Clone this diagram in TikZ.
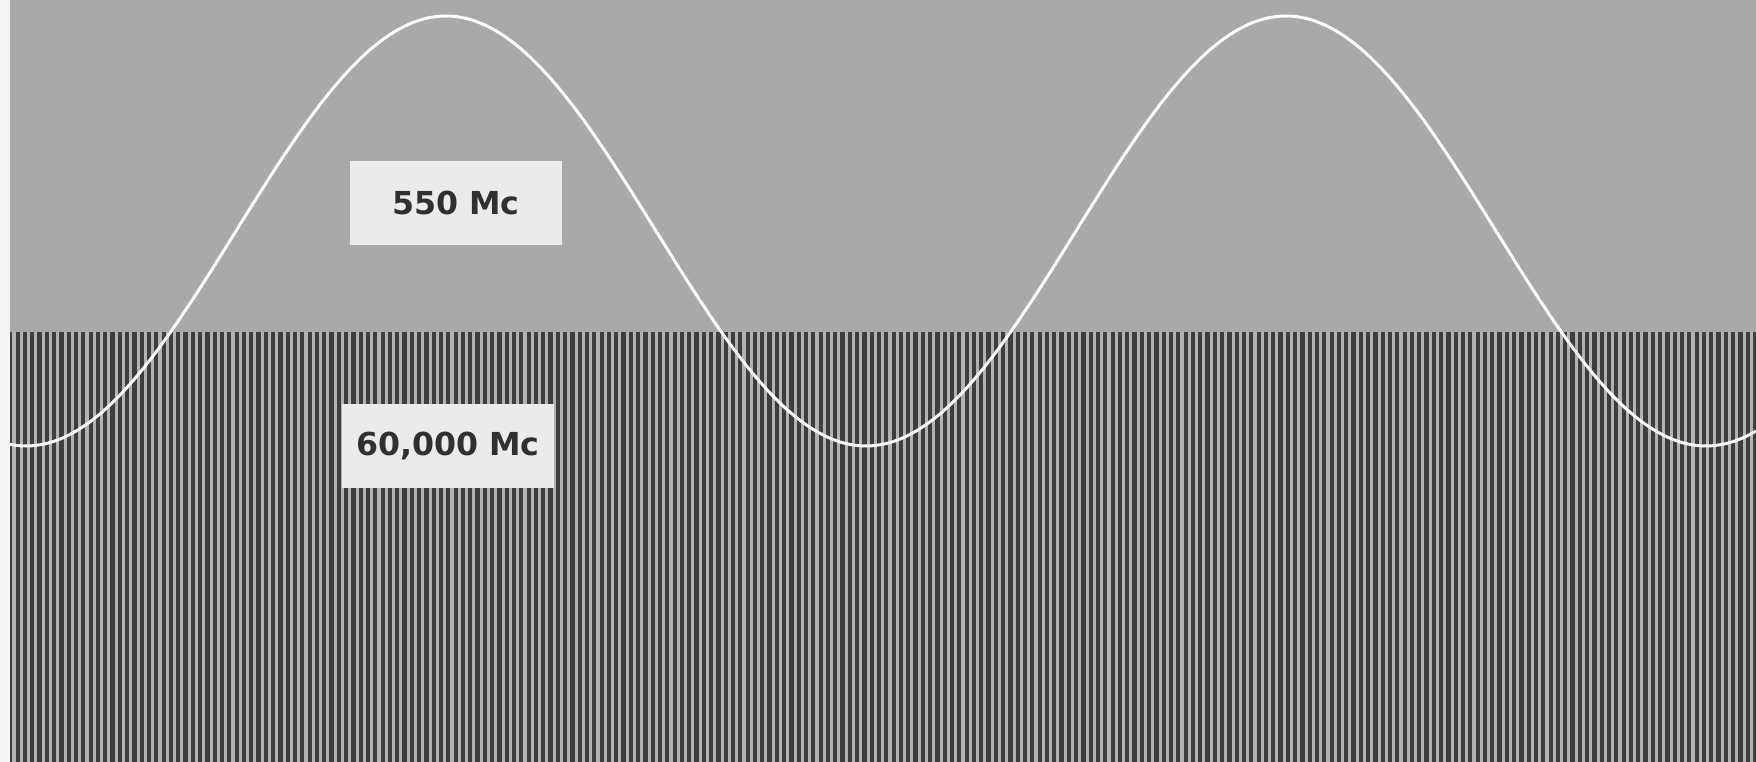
\documentclass[tikz,border=0pt]{standalone}
\usepackage{fontspec}
\newfontfamily\labelfont{DejaVu Sans}
\definecolor{paper}{HTML}{F2F2F2}
\definecolor{topgray}{HTML}{A9A9A9}
\definecolor{stripedark}{HTML}{3E3E3E}
\definecolor{stripelight}{HTML}{B2B2B2}
\definecolor{boxfill}{HTML}{EBEBEB}
\definecolor{labeltext}{HTML}{303030}

\begin{document}
\begin{tikzpicture}[x=0.01cm, y=-0.01cm,
    freqbox/.style={fill=boxfill, inner sep=0pt, minimum width=2.12cm, minimum height=0.84cm,
                    font=\labelfont\bfseries\fontsize{9}{11}\selectfont, text=labeltext}]
    \useasboundingbox (0,0) rectangle (1756,762);
    \fill[paper] (0,0) rectangle (1756,762);
    % low band and high band
    \fill[topgray] (10,0) rectangle (1756,332);
    \fill[stripedark] (10,332) rectangle (1756,762);
    \foreach \i in {0,...,238}
        \draw[stripelight, line width=0.9pt] ({14+7.3*\i},332) -- ({14+7.3*\i},762);
    % the 550 Mc wave
    \draw[white, line width=0.85pt] plot[domain=10:1756, samples=240, smooth]
        (\x, {231+215*cos(0.428571*(\x-26))});
    \node[freqbox] (low) at (456,203) {550 Mc};
    \node[freqbox] (high) at (448,446) {60,000 Mc};
\end{tikzpicture}
\end{document}
